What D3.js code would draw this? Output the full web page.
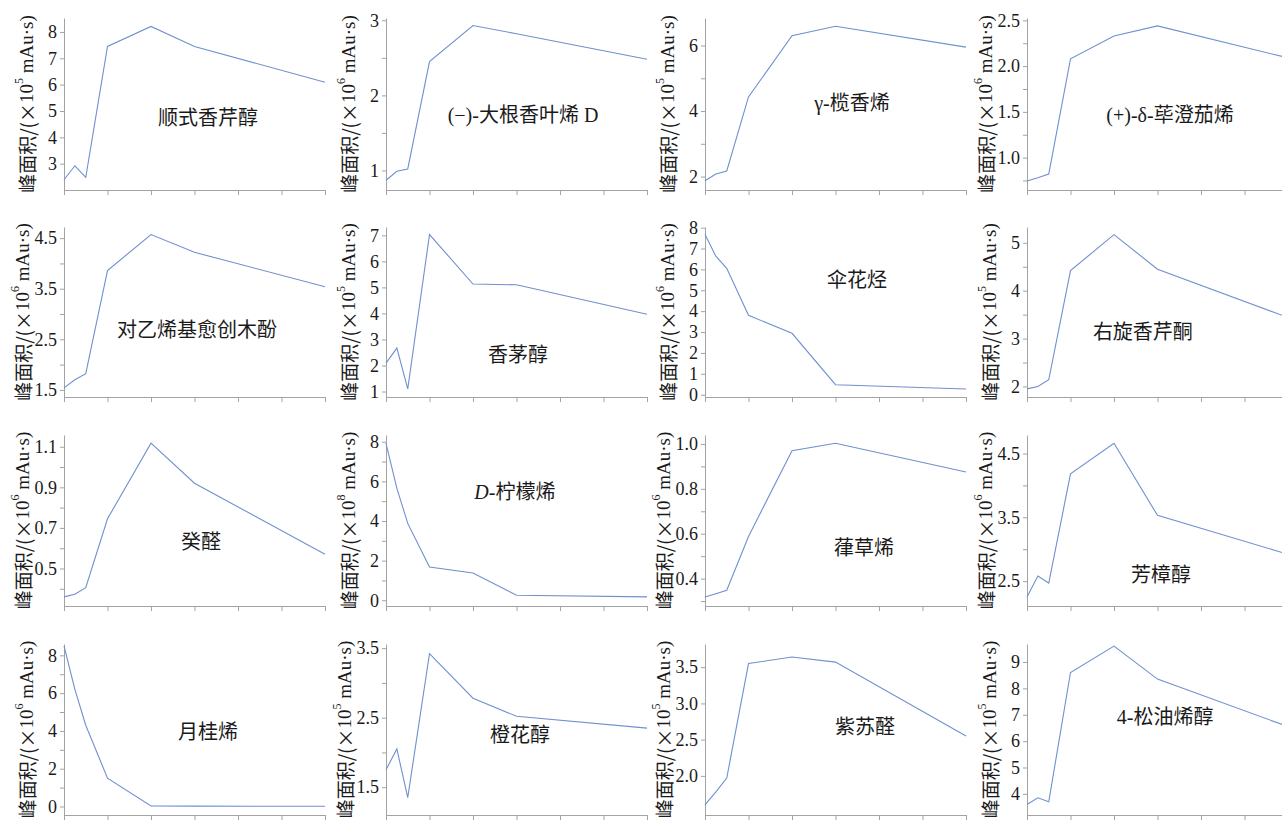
<!DOCTYPE html>
<html><head><meta charset="utf-8">
<script src="https://cdn.jsdelivr.net/npm/d3@7"></script>
<style>
html,body{margin:0;padding:0;background:#fff;}
svg{display:block;}
text{fill:#1a1a1a;}
</style></head>
<body>
<svg id="chart" width="1282" height="823"></svg>
<script>
// ---- data ----
const times = [0, 0.25, 0.5, 1, 2, 3, 6];
const names = ["顺式香芹醇","(−)-大根香叶烯 D","γ-榄香烯","(+)-δ-荜澄茄烯",
  "对乙烯基愈创木酚","香茅醇","伞花烃","右旋香芹酮",
  "癸醛","D-柠檬烯","葎草烯","芳樟醇",
  "月桂烯","橙花醇","紫苏醛","4-松油烯醇"];
const exponents = [5,6,5,6, 6,5,6,5, 6,8,6,6, 6,5,5,5];
const shunshiXiangqinchun = [2.39, 2.92, 2.48, 7.45, 8.21, 7.45, 6.09];
const dagenXiangyexiD     = [0.87, 0.99, 1.02, 2.45, 2.93, 2.82, 2.48];
const ganlanXiangxi       = [1.87, 2.08, 2.17, 4.43, 6.30, 6.59, 5.95];
const bichengQiexi        = [0.745, 0.78, 0.82, 2.08, 2.33, 2.44, 2.09];
const yixiJiYuchuangmufen = [1.54, 1.70, 1.82, 3.86, 4.57, 4.22, 3.54];
const xiangmaochun        = [2.09, 2.67, 1.10, 7.03, 5.13, 5.10, 3.97];
const sanhuating          = [7.67, 6.63, 6.05, 3.80, 2.94, 0.48, 0.27];
const youxuanXiangqintong = [1.95, 2.00, 2.14, 4.42, 5.17, 4.45, 3.44];
const guiquan             = [0.360, 0.373, 0.405, 0.745, 1.118, 0.920, 0.570];
const ningmengxi          = [7.92, 5.65, 3.88, 1.68, 1.38, 0.25, 0.17];
const lvcaoxi             = [0.318, 0.333, 0.348, 0.588, 0.970, 1.003, 0.875];
const fangzhangchun       = [2.25, 2.58, 2.47, 4.18, 4.66, 3.53, 2.92];
const yueguixi            = [8.50, 6.20, 4.30, 1.50, 0.03, 0.02, 0.01];
const chenghuachun        = [1.75, 2.05, 1.35, 3.42, 2.78, 2.52, 2.35];
const suzuquan            = [1.60, 1.78, 1.97, 3.55, 3.64, 3.57, 2.55];
const songyouxichun       = [3.60, 3.85, 3.70, 8.60, 9.60, 8.35, 6.55];
const seriesValues = [shunshiXiangqinchun, dagenXiangyexiD, ganlanXiangxi, bichengQiexi,
  yixiJiYuchuangmufen, xiangmaochun, sanhuating, youxuanXiangqintong,
  guiquan, ningmengxi, lvcaoxi, fangzhangchun,
  yueguixi, chenghuachun, suzuquan, songyouxichun];
const yDomains = [[2.0,8.53],[0.74,3.03],[1.59,6.84],[0.646,2.526],
  [1.36,4.72],[0.79,7.32],[-0.11,8.03],[1.78,5.33],
  [0.315,1.158],[-0.29,8.34],[0.278,1.04],[2.11,4.79],
  [-0.45,8.6],[1.1,3.56],[1.46,3.82],[3.2,9.68]];
const yTickLabels = [[3,4,5,6,7,8],[1,2,3],[2,4,6],[1.0,1.5,2.0,2.5],
  [1.5,2.5,3.5,4.5],[1,2,3,4,5,6,7],[0,1,2,3,4,5,6,7,8],[2,3,4,5],
  [0.5,0.7,0.9,1.1],[0,2,4,6,8],[0.4,0.6,0.8,1.0],[2.5,3.5,4.5],
  [0,2,4,6,8],[1.5,2.5,3.5],[2.0,2.5,3.0,3.5],[4,5,6,7,8,9]];
const yMinorTicks = [[],[1.5,2.5],[3,5],[0.75,1.25,1.75,2.25],
  [2,3,4],[],[],[2.5,3.5,4.5],
  [0.4,0.6,0.8,1.0],[1,3,5,7],[0.3,0.5,0.7,0.9],[3,4],
  [1,3,5,7],[2,3],[],[]];
const yFormats = ["d","d","d",".1f", ".1f","d","d","d", ".1f","d",".1f",".1f", "d",".1f",".1f","d"];

// ---- layout (not data) ----
const colX = [64, 386, 705, 1027];
const rowTop = [18, 227, 435, 644];
const rowBottom = [190, 397, 606, 815];
const plotW = 261;
const labelPos = [[0.552,0.58],[0.525,0.564],[0.563,0.494],[0.548,0.564],
  [0.51,0.606],[0.506,0.753],[0.582,0.312],[0.444,0.616],
  [0.525,0.624],[0.494,0.332],[0.609,0.661],[0.513,0.819],
  [0.552,0.515],[0.513,0.532],[0.613,0.485],[0.529,0.427]];

const LATIN = "'Liberation Serif','Times New Roman',serif";
const CJK = "'Liberation Serif','Noto Sans CJK SC',sans-serif";
const axisColor = "#a3a3a3";
const lineColor = "#7090cf";

const svg = d3.select("#chart");

seriesValues.forEach((vals, i) => {
  const col = i % 4, row = Math.floor(i / 4);
  const x0 = colX[col], top = rowTop[row], bottom = rowBottom[row];
  const x = d3.scaleLinear().domain([0, 6]).range([x0, x0 + plotW]);
  const y = d3.scaleLinear().domain(yDomains[i]).range([bottom, top]);
  const g = svg.append("g");

  // x axis
  const xa = g.append("g").attr("transform", `translate(0,${bottom})`)
    .call(d3.axisBottom(x).tickValues(d3.range(0, 7)).tickSize(5).tickSizeOuter(0).tickFormat(""));
  xa.selectAll("path,line").attr("stroke", axisColor);

  // y minor ticks
  const ym = g.append("g").attr("transform", `translate(${x0},0)`)
    .call(d3.axisLeft(y).tickValues(yMinorTicks[i]).tickSize(4).tickFormat(""));
  ym.select(".domain").remove();
  ym.selectAll("line").attr("stroke", axisColor);

  // y axis
  const ya = g.append("g").attr("transform", `translate(${x0},0)`)
    .call(d3.axisLeft(y).tickValues(yTickLabels[i]).tickSize(4).tickPadding(3)
      .tickSizeOuter(0).tickFormat(d3.format(yFormats[i])));
  ya.selectAll("path,line").attr("stroke", axisColor);
  ya.selectAll("text").attr("font-family", LATIN).attr("font-size", 18).attr("fill", "#1a1a1a");

  let maxW = 0;
  ya.selectAll("text").each(function(){ maxW = Math.max(maxW, this.getBBox().width); });

  // line
  const line = d3.line().x((d, k) => x(times[k])).y(d => y(d));
  g.append("path").datum(vals).attr("d", line)
    .attr("fill", "none").attr("stroke", lineColor).attr("stroke-width", 1.1);

  // y title
  const tx = x0 - Math.max(38, maxW + 20);
  const ty = (top + bottom) / 2;
  const t = g.append("text")
    .attr("transform", `translate(${tx},${ty}) rotate(-90)`)
    .attr("text-anchor", "middle").attr("dominant-baseline", "central")
    .attr("font-family", CJK).attr("font-size", 19);
  t.append("tspan").attr("font-family", "'Noto Sans CJK SC',sans-serif").text("峰面积/(×");
  t.append("tspan").text("10");
  t.append("tspan").attr("font-size", 12).attr("dy", -7).text(exponents[i]);
  t.append("tspan").attr("dy", 7).text(" mAu·s)");

  // compound label
  const lx = x0 + labelPos[i][0] * plotW;
  const ly = top + labelPos[i][1] * (bottom - top);
  const lab = g.append("text").attr("x", lx).attr("y", ly)
    .attr("text-anchor", "middle").attr("dominant-baseline", "central")
    .attr("font-family", CJK).attr("font-size", 20);
  const nm = names[i];
  if (nm.startsWith("D-")) {
    lab.append("tspan").attr("font-style", "italic").text("D");
    lab.append("tspan").text(nm.slice(1));
  } else {
    lab.text(nm);
  }
});
</script>
</body></html>
